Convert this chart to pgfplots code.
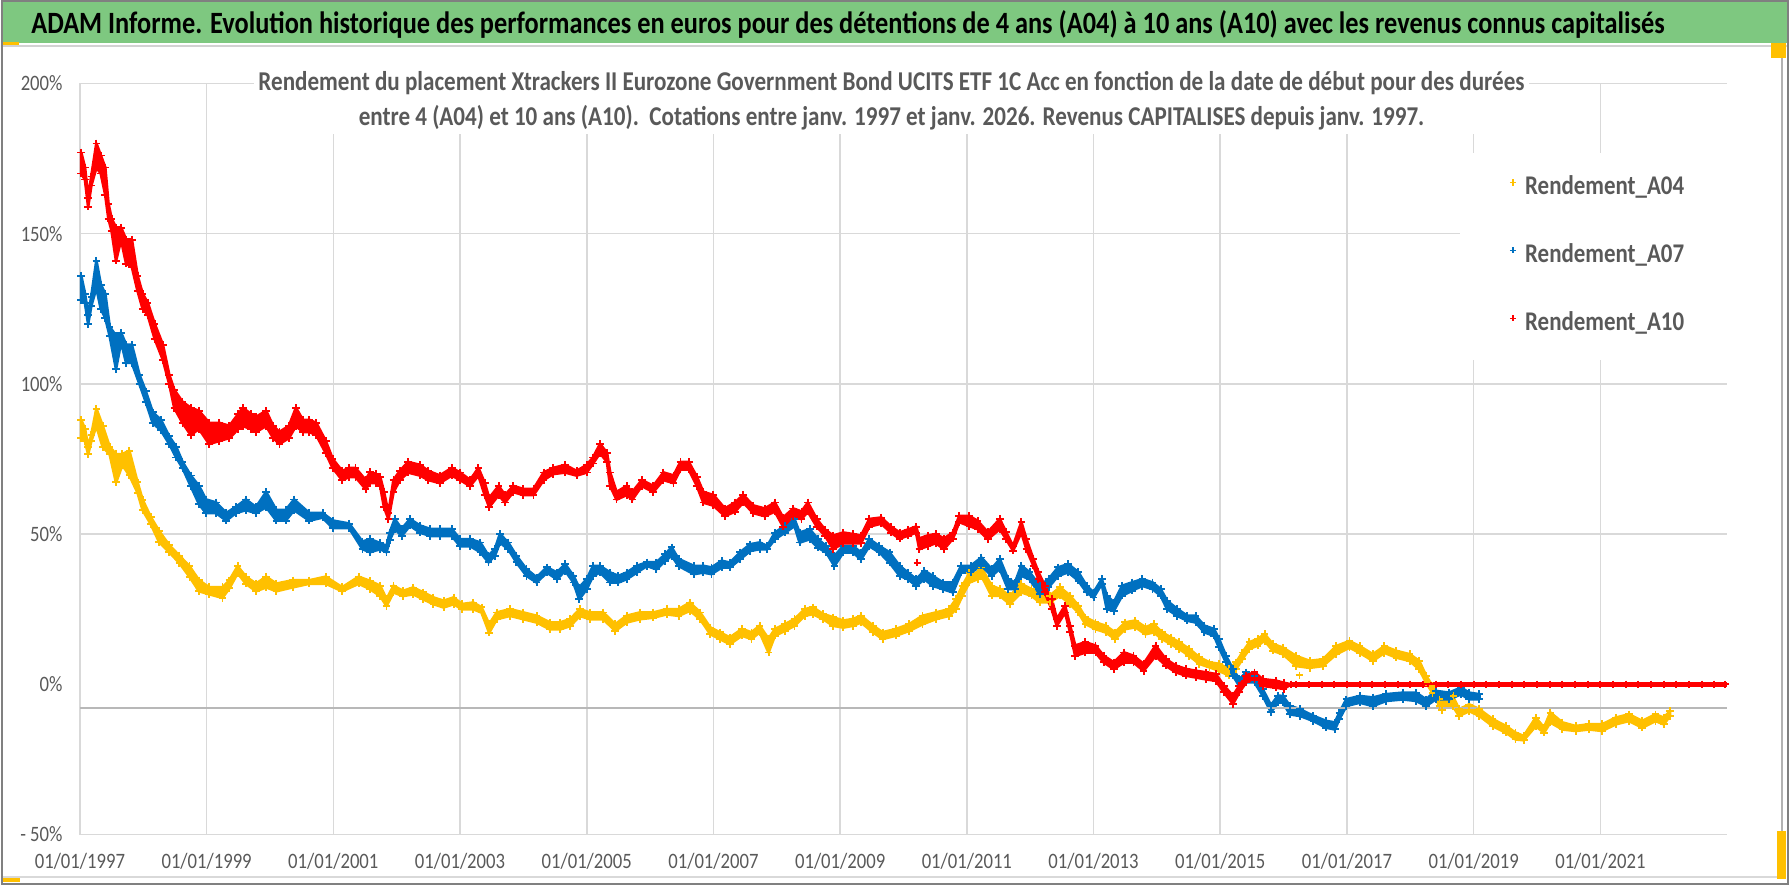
\documentclass[border=0pt]{standalone}
\usepackage{fontspec}
\setmainfont{Carlito}[FakeStretch=0.85]
\usepackage{pgfplots}
\usepgfplotslibrary{fillbetween}
\pgfplotsset{compat=1.18}
\usepackage{pgfplotstable}

\definecolor{cY}{RGB}{255,192,0}
\definecolor{cB}{RGB}{0,112,192}
\definecolor{cR}{RGB}{255,0,0}
\definecolor{grn}{RGB}{126,200,128}
\definecolor{lgray}{RGB}{89,89,89}
\definecolor{gridc}{RGB}{217,217,217}

% Rendement_A04 : date, haut et bas de la bande de points
\pgfplotstableread{
x hi lo
1997.02 88 82
1997.08 85 81
1997.13 79 76.6
1997.18 83 81
1997.26 91.7 86
1997.36 86 79
1997.47 79 76.6
1997.57 76.6 67.2
1997.67 76.6 73
1997.78 77.7 69.6
1997.91 67.2 63.8
1997.99 61.4 58
1998.12 55.6 53.3
1998.25 51 47.4
1998.41 46.3 44
1998.57 42.8 40.4
1998.73 39.3 35.8
1998.88 34.6 31
1999.04 32.3 30
1999.25 32.3 28.8
1999.36 34.6 32
1999.49 39.3 37
1999.62 35.8 33.5
1999.78 33.5 31
1999.94 35.8 32.3
2000.10 33.5 31
2000.36 34.6 32.3
2000.62 34.6 33.5
2000.88 35.8 33.5
2001.14 32.3 31
2001.40 35.8 33.5
2001.58 34.4 31.7
2001.74 32.8 29.4
2001.84 28.3 26.1
2001.95 32.8 30.6
2002.10 31.1 29.4
2002.26 32.2 30
2002.42 30.6 28.3
2002.58 28.9 26.7
2002.74 27.8 25.6
2002.90 28.9 26.7
2003.03 26.7 25
2003.21 27.2 25
2003.34 25.6 23.9
2003.46 20 17.2
2003.58 23.9 21.7
2003.79 25 22.8
2004.00 23.9 21.7
2004.21 22.8 20.6
2004.42 20.6 18.3
2004.58 20.6 18.3
2004.74 21.7 19.4
2004.89 25 22.8
2005.05 23.9 21.7
2005.26 23.9 21.7
2005.45 20 17.8
2005.63 22.8 20.6
2005.84 23.9 21.7
2006.05 23.9 22.2
2006.26 25 23.3
2006.45 25 22.8
2006.63 27.2 24.5
2006.79 23.9 21.7
2006.95 18.9 16.7
2007.10 17.3 15.1
2007.26 15.6 13.4
2007.45 18.4 16.2
2007.60 17.3 15.1
2007.73 19.5 17.3
2007.87 15.1 10.6
2007.97 18.4 16.2
2008.13 20 17.8
2008.28 21.7 19.5
2008.44 25 22.8
2008.57 25.6 23.4
2008.73 23.4 21.7
2008.89 22.3 19.5
2009.05 21.2 18.9
2009.20 21.7 19.5
2009.33 22.8 20.6
2009.52 19.5 17.3
2009.67 17.3 15.1
2009.88 18.4 16.2
2010.09 20 17.8
2010.30 22.8 20
2010.51 23.9 21.7
2010.72 25 22.8
2010.83 28.4 25
2010.93 32.8 29.5
2011.04 37 33.9
2011.17 37.2 35
2011.23 38.9 36.1
2011.39 32.8 29.5
2011.52 31.7 29.5
2011.68 29.5 26.7
2011.86 33.4 30.6
2012.02 31.7 29.5
2012.15 29.5 27.3
2012.31 29.5 27.3
2012.47 32.3 29.5
2012.63 29.5 26.7
2012.76 26.2 23.9
2012.87 22.3 20.1
2013.03 20.6 18.4
2013.19 19.5 17.3
2013.34 17.3 15.1
2013.50 20.6 18.4
2013.66 21.2 19
2013.82 19 16.7
2013.95 20.1 17.3
2014.08 17.3 15.1
2014.22 15.6 13.4
2014.35 14 11.8
2014.51 11.8 9.5
2014.67 9 6.8
2014.83 7.3 5.7
2014.98 6.8 4.5
2015.14 5.1 2.9
2015.25 7.3 5.1
2015.35 10.6 8.4
2015.46 14 11.8
2015.59 15.1 12.9
2015.70 16.7 14.5
2015.83 13.4 11.2
2015.99 12.2 10
2016.20 9.4 6.1
2016.41 7.8 5.5
2016.62 8.3 6.1
2016.83 12.7 10
2017.04 14.4 12.2
2017.20 12.7 10.5
2017.41 10 7.8
2017.59 12.7 10.5
2017.78 11.1 8.9
2017.99 10 7.8
2018.14 7.8 5
2018.25 2.8 0.6
2018.35 -0.6 -2.8
2018.46 -5 -7.2
2018.67 -3.9 -7.2
2018.77 -8.3 -10.5
2018.93 -6.7 -8.9
2019.09 -8.3 -10.5
2019.30 -11.6 -13.9
2019.51 -13.9 -16.1
2019.66 -16.1 -18.3
2019.79 -17.2 -18.6
2019.98 -11.1 -13.9
2020.11 -14.4 -16.1
2020.21 -9.4 -12.7
2020.40 -12.7 -15
2020.61 -13.9 -15.5
2020.82 -13.3 -15
2021.03 -13.3 -15.5
2021.24 -11.1 -13.3
2021.45 -10 -12.2
2021.66 -12.2 -14.4
2021.87 -10 -12.2
2022.00 -11.1 -13.3
2022.10 -8.9 -10.5
}\tAa

% Rendement_A07
\pgfplotstableread{
x hi lo
1997.02 136 128
1997.08 130 127
1997.13 123 120
1997.18 129 126
1997.26 141 132
1997.33 133 125
1997.40 130 122
1997.47 119 116
1997.57 116 105
1997.65 117 114
1997.73 113 107
1997.82 113 107
1997.94 103 100
1998.04 97.5 94
1998.15 90.5 87
1998.28 88 84.5
1998.41 82.5 80
1998.52 79 75.5
1998.62 74 72
1998.75 69.5 66
1998.88 66 60
1998.99 61.5 57
1999.15 60.5 57
1999.31 57 54.5
1999.46 59 57
1999.62 61.5 58
1999.78 59 57
1999.94 64 59
2000.10 58 54.5
2000.25 58 54.5
2000.38 61.5 58
2000.62 57 54.5
2000.83 57 55.5
2000.99 54.5 52
2001.25 53.5 52
2001.46 47.5 45
2001.58 48.3 44
2001.74 47 45
2001.84 46 44
2001.89 50.5 48
2001.97 55 51.7
2002.08 51.7 49.4
2002.21 55 52.8
2002.37 52.8 50.5
2002.53 51.7 49.4
2002.68 51.7 49.4
2002.87 51.7 49.4
2003.00 48.3 46
2003.16 48.3 46
2003.32 47.2 44
2003.45 42.8 40.6
2003.55 45 42.8
2003.63 50 47.2
2003.76 47.2 45
2003.89 42.8 40.6
2004.05 38.3 36.1
2004.21 35.6 33.9
2004.37 38.9 37.2
2004.53 37.2 35
2004.66 40 37.8
2004.79 36.1 33.9
2004.88 32.2 28.3
2005.00 35 31.7
2005.10 39.4 36.1
2005.21 39.4 37.2
2005.37 37.2 33.9
2005.50 36.1 33.9
2005.63 37.2 35
2005.79 39.4 37.2
2005.95 40.6 39.4
2006.10 40.6 38.3
2006.24 43.3 41.1
2006.34 45.6 42.8
2006.45 41.7 39.4
2006.69 39.4 36.7
2006.84 39.4 37.2
2006.97 38.9 36.7
2007.13 41.1 38.9
2007.26 40.5 38.9
2007.42 43.9 41.6
2007.58 46.6 44.4
2007.73 47.2 45
2007.85 46 45
2007.97 50.5 48.3
2008.13 52.7 50.5
2008.28 54.9 52.7
2008.36 50.5 47.2
2008.52 51.6 48.3
2008.65 48.3 45.5
2008.78 46 43.9
2008.91 42.7 39.4
2009.05 46 43.9
2009.20 46 43.9
2009.33 43.9 41.6
2009.46 48.3 46
2009.62 46 43.9
2009.78 43.9 40.5
2009.94 39.4 36.1
2010.07 37.2 35
2010.20 35 32.8
2010.33 37.8 35
2010.46 36.1 32.8
2010.62 33.9 31.7
2010.78 33.9 30.6
2010.91 39.4 37.2
2011.06 39.4 37.2
2011.23 42.2 39.5
2011.39 38.4 36.1
2011.52 41.7 38.4
2011.65 35 31.7
2011.76 33.9 31.7
2011.86 39.5 36.1
2011.99 37.3 35
2012.15 32.8 30
2012.29 35 32.3
2012.44 38.9 36.1
2012.60 40 37.3
2012.76 37.3 34.5
2012.89 32.8 30.6
2013.00 30.6 28.9
2013.13 35 33.4
2013.21 29.5 25
2013.32 27.3 24.5
2013.45 32.8 29.5
2013.61 33.9 31.2
2013.77 35 32.8
2013.93 33.9 31.7
2014.06 31.7 29.5
2014.16 27.8 25.1
2014.32 25.1 22.8
2014.48 22.8 21.2
2014.61 22.8 20.6
2014.75 19.5 17.3
2014.90 18.4 16.2
2014.98 15.1 12.3
2015.09 9.5 7.3
2015.20 5.1 2.9
2015.30 1.7 -0.5
2015.41 4 0.7
2015.54 2.9 0.7
2015.67 -1.6 -3.8
2015.80 -7 -9.3
2015.91 -3.8 -6
2015.99 -3.9 -6.1
2016.10 -7.2 -10
2016.26 -8.3 -10.5
2016.47 -10.5 -12.2
2016.67 -12.2 -14.4
2016.81 -12.7 -15
2016.88 -9.4 -11.6
2016.99 -5 -7.2
2017.20 -3.9 -6.1
2017.41 -4.4 -7.2
2017.62 -3.3 -5.5
2017.88 -2.8 -5
2018.09 -2.8 -5.5
2018.25 -5 -7.2
2018.40 -2.2 -5
2018.61 -2.8 -5
2018.80 -1.1 -3.3
2018.93 -2.8 -5
2019.09 -3.3 -5
}\tAb

% Rendement_A10 (nul a partir de 2016)
\pgfplotstableread{
x hi lo
1997.02 177 170
1997.08 172 168
1997.13 162 159
1997.18 169 166
1997.26 180 172
1997.33 176 170
1997.40 172 163
1997.45 160 155
1997.50 155 151
1997.57 152 141
1997.65 152 148
1997.73 148 140
1997.82 148 139
1997.91 136 131
1997.99 130 125
1998.07 127 123
1998.18 120 115
1998.31 113 108
1998.41 103 100
1998.49 98 92
1998.62 94 87
1998.75 92 83
1998.88 91 85
1999.04 87 80
1999.20 87 81
1999.36 86 82
1999.50 90 85
1999.57 92 86
1999.70 90 85
1999.78 89 84
1999.94 91 86
2000.05 86 82
2000.15 84 80
2000.30 86 82
2000.41 92 86
2000.52 88 84
2000.62 88 84
2000.73 87 83
2000.88 81 77
2000.99 75 72
2001.14 71 68
2001.25 72 69
2001.35 72 69
2001.51 68 65
2001.58 70.6 67
2001.67 70 67
2001.74 69 66
2001.80 64 59
2001.87 57 55
2001.95 68 64
2002.05 71 68
2002.18 74 70.5
2002.37 73 69.5
2002.50 71 68
2002.68 69.5 67
2002.87 72 69.5
2003.00 70.5 68
2003.16 68 66
2003.29 72 69.5
2003.39 67 63
2003.46 62 59
2003.61 66 63
2003.71 63 60.5
2003.84 66 64
2004.00 65 63
2004.16 65 63
2004.32 70.5 68
2004.47 72 70
2004.66 73 70.5
2004.84 71 69.5
2005.00 73 70.5
2005.10 75.5 73.5
2005.21 80 77
2005.32 77 74
2005.37 70.5 66
2005.47 64 61.5
2005.63 66 63
2005.72 64 61.5
2005.87 68 66
2006.05 66 64
2006.21 70.5 68
2006.37 69.5 67
2006.48 74 71.5
2006.61 74 71.5
2006.74 69 66
2006.84 64 60.5
2007.00 63 59.5
2007.18 58.5 56
2007.34 60.5 57.5
2007.47 63 60.5
2007.63 59.5 57
2007.81 58.5 56
2007.97 60.5 57.5
2008.10 55.5 52.5
2008.26 58.5 56
2008.39 57.5 55
2008.49 60.5 57.5
2008.63 55 52.5
2008.76 51.5 49.5
2008.89 49.5 45
2009.05 50.5 47
2009.20 50 47
2009.33 49.5 47
2009.46 55 52.5
2009.65 55.5 53.5
2009.80 52.5 50.5
2009.94 50.5 48.5
2010.07 51.5 49.5
2010.20 52.5 50.5
2010.25 48.5 45
2010.38 49.5 46
2010.51 50 47
2010.64 48.5 45
2010.78 50.5 48.5
2010.88 56 54
2011.04 56 52.7
2011.17 54.4 51.7
2011.33 50.6 48.3
2011.52 55 51.7
2011.62 50.6 48.3
2011.73 46 44.5
2011.86 54 50.6
2011.94 48.3 45
2012.05 41.7 39.5
2012.13 37.3 35
2012.23 32.8 30.6
2012.34 28.4 25
2012.42 21.7 19.5
2012.55 26.2 23.9
2012.63 19.5 17.3
2012.71 12.9 9.5
2012.87 14 10.6
2013.03 12.9 10.6
2013.16 9.5 7.3
2013.32 7.3 5.1
2013.48 10.6 7.3
2013.63 9.5 7.3
2013.79 6.8 4.5
2013.98 12.9 9.5
2014.14 8.4 6.2
2014.30 6.2 4
2014.46 5.1 2.9
2014.61 4.5 2.3
2014.77 4 1.7
2014.93 3.4 1.2
2015.06 -0.5 -2.7
2015.20 -3.8 -6.5
2015.30 -0.5 -2.7
2015.41 2.9 0.7
2015.54 4 1.7
2015.67 1.7 -0.5
2015.88 1.2 -1.1
2016.00 0.5 -1.5
2016.12 0 0
}\tAc

\begin{document}
\begin{tikzpicture}
% bandeau vert
\fill[grn] (0,421.5pt) rectangle (895pt,443pt);
\draw[gray!35, line width=1pt] (0,420pt) -- (895pt,420pt);
\draw[gray!30, line width=1pt] (0,4pt) -- (891.5pt,4pt);
\draw[gray!60, line width=0.8pt] (891.5pt,4pt) -- (891.5pt,420pt);
\fill[cY] (0,420.5pt) rectangle (9pt,422pt);
\fill[cY] (886pt,414pt) rectangle (893.5pt,421.5pt);
\fill[cY] (889pt,3pt) rectangle (893.5pt,27pt);
\fill[cY] (0,1.5pt) rectangle (9.5pt,3.5pt);
\draw[gray, line width=0.8pt] (0.4pt,0.4pt) rectangle (894.6pt,442.6pt);

\node[anchor=base west, inner sep=0pt, font=\fontsize{15.5}{18}\selectfont\bfseries] at (15pt,426pt)
  {ADAM Informe. Evolution historique des performances en euros pour des détentions de 4 ans (A04) à 10 ans (A10) avec les revenus connus capitalisés};

\begin{axis}[
    at={(39.5pt,25.25pt)}, anchor=south west,
    scale only axis, width=824.5pt, height=376pt,
    xmin=1997, xmax=2023, ymin=-50, ymax=200,
    axis line style={draw=none},
    major tick length=0pt,
    xtick={1997,1999,...,2021},
    xticklabels={01/01/1997,01/01/1999,01/01/2001,01/01/2003,01/01/2005,01/01/2007,01/01/2009,01/01/2011,01/01/2013,01/01/2015,01/01/2017,01/01/2019,01/01/2021},
    ytick={-50,0,50,100,150,200},
    yticklabels={- 50\%,0\%,50\%,100\%,150\%,200\%},
    extra y ticks={-50,50,100,150,200},
    extra y tick labels={},
    extra y tick style={grid=major},
    xmajorgrids=true,
    grid style={color=gridc, line width=0.8pt},
    tick label style={font=\fontsize{11}{13}\selectfont, text=lgray},
    xticklabel style={anchor=center, yshift=-13.5pt},
    yticklabel style={anchor=east, inner sep=0pt, xshift=-8.5pt},
    legend style={at={(0.8375,0.908)}, anchor=north west, draw=none, fill=white,
        font=\fontsize{13.5}{16}\selectfont\bfseries, text=lgray,
        inner xsep=25pt, inner ysep=12pt, row sep=22.5pt, column sep=4.5pt,
        nodes={inner sep=0pt, text height=9pt, text depth=2.5pt}},
    legend cell align=left,
    legend image code/.code={\draw[mark size=1.6pt, mark options={line width=0.7pt}] plot coordinates {(0pt,3pt)};},
    mark size=1.9pt,
    band/.style={line width=1.4pt, line join=round, forget plot},
    pts/.style={only marks, mark=+, mark options={line width=0.95pt}},
]
% ligne de l'axe horizontal
\addplot[color=black!28, line width=1pt, forget plot] coordinates {(1997,-8) (2023,-8)};

% A04
\addplot[draw=none, name path=Yh, forget plot] table[x=x,y=hi]{\tAa};
\addplot[draw=none, name path=Yl, forget plot] table[x=x,y=lo]{\tAa};
\addplot[fill=cY, draw=cY, band] fill between[of=Yh and Yl];
\addplot[cY, pts] table[x=x,y=hi]{\tAa};
\addlegendentry{Rendement\_A04}
\addplot[cY, pts, forget plot] table[x=x,y=lo]{\tAa};
\addplot[cY, pts, forget plot] coordinates {(2016.25,3) (2018.5,-8.5)};

% A07
\addplot[draw=none, name path=Bh, forget plot] table[x=x,y=hi]{\tAb};
\addplot[draw=none, name path=Bl, forget plot] table[x=x,y=lo]{\tAb};
\addplot[fill=cB, draw=cB, band] fill between[of=Bh and Bl];
\addplot[cB, pts] table[x=x,y=hi]{\tAb};
\addlegendentry{Rendement\_A07}
\addplot[cB, pts, forget plot] table[x=x,y=lo]{\tAb};

% A10
\addplot[draw=none, name path=Rh, forget plot] table[x=x,y=hi]{\tAc};
\addplot[draw=none, name path=Rl, forget plot] table[x=x,y=lo]{\tAc};
\addplot[fill=cR, draw=cR, band] fill between[of=Rh and Rl];
\addplot[cR, pts] table[x=x,y=hi]{\tAc};
\addlegendentry{Rendement\_A10}
\addplot[cR, pts, forget plot] table[x=x,y=lo]{\tAc};
\addplot[cR, pts, forget plot] coordinates {(2010.22,40.5)};
\addplot[cR, line width=2.8pt, forget plot] coordinates {(2016.1,0) (2023,0)};
\addplot[cR, pts, forget plot] coordinates {
(2016.2,0) (2016.4,0) (2016.6,0) (2016.8,0) (2017.0,0) (2017.2,0) (2017.4,0) (2017.6,0) (2017.8,0)
(2018.0,0) (2018.2,0) (2018.4,0) (2018.6,0) (2018.8,0) (2019.0,0) (2019.2,0) (2019.4,0) (2019.6,0)
(2019.8,0) (2020.0,0) (2020.2,0) (2020.4,0) (2020.6,0) (2020.8,0) (2021.0,0) (2021.2,0) (2021.4,0)
(2021.6,0) (2021.8,0) (2022.0,0) (2022.2,0) (2022.4,0) (2022.6,0) (2022.8,0) (2022.97,0)};
\end{axis}

% cadre blanc du sous-titre
\fill[white] (126.5pt,412pt) rectangle (765pt,376pt);
\node[anchor=base, font=\fontsize{13.6}{16}\selectfont\bfseries, text=lgray] at (445.75pt,397.5pt)
  {Rendement du placement Xtrackers II Eurozone Government Bond UCITS ETF 1C Acc en fonction de la date de début pour des durées};
\node[anchor=base, font=\fontsize{13.6}{16}\selectfont\bfseries, text=lgray] at (445.75pt,380pt)
  {entre 4 (A04) et 10 ans (A10).\ \ Cotations entre janv. 1997 et janv. 2026. Revenus CAPITALISES depuis janv. 1997.};
\end{tikzpicture}
\end{document}
